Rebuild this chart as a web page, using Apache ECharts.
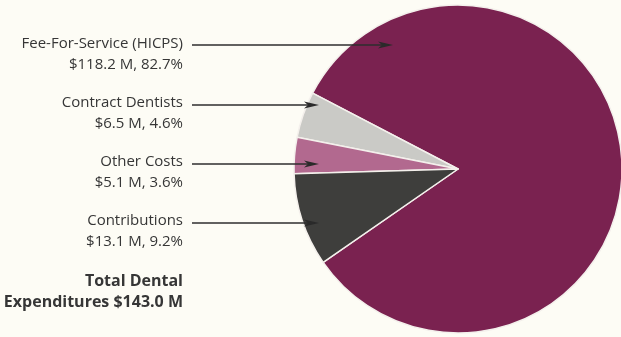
<!DOCTYPE html>
<html>
<head>
<meta charset="utf-8">
<script src="https://cdn.jsdelivr.net/npm/echarts@6/dist/echarts.min.js"></script>
<style>
  html, body { margin: 0; padding: 0; background: #fdfcf5; }
  #chart { width: 621px; height: 337px; }
</style>
</head>
<body>
<div id="chart"></div>
<script>
// Dental expenditure breakdown
const categories = ['Fee-For-Service (HICPS)', 'Contract Dentists', 'Other Costs', 'Contributions'];
const amounts = [118.2, 6.5, 5.1, 13.1];          // $ millions
const percents = [82.7, 4.6, 3.6, 9.2];           // share of total
const totalAmount = 143.0;
const sliceColors = ['#7a2250', '#cacac6', '#b2698f', '#3e3e3c'];

const textFont = '"Open Sans", "Noto Sans", sans-serif';
const textColor = '#363636';

// label anchor rows (top of first line) and arrow tips
const labelTops = [33, 92, 151, 210];
const arrowTips = [[393, 45], [319, 105], [319, 164], [319, 223]];
const labelRight = 183;

const chart = echarts.init(document.getElementById('chart'));

const data = categories.map((name, i) => ({
  name,
  value: amounts[i],
  itemStyle: { color: sliceColors[i] }
}));

// arrows from each label to its slice
const arrowGraphics = [];
arrowTips.forEach(([tx, ty]) => {
  arrowGraphics.push({
    type: 'line',
    shape: { x1: 192, y1: ty, x2: tx - 8, y2: ty },
    style: { stroke: '#2e2e2e', lineWidth: 1.3 },
    z: 10
  });
  arrowGraphics.push({
    type: 'polygon',
    shape: { points: [[tx, ty], [tx - 15, ty - 3.5], [tx - 11, ty], [tx - 15, ty + 3.5]] },
    style: { fill: '#2a2a2a' },
    z: 10
  });
});

chart.setOption({
  backgroundColor: '#fdfcf5',
  animation: false,
  graphic: arrowGraphics.concat([{
    type: 'text',
    x: labelRight,
    y: 271,
    style: {
      text: 'Total Dental\nExpenditures $' + totalAmount.toFixed(1) + ' M',
      font: 'bold 16px ' + textFont,
      fill: textColor,
      align: 'right',
      verticalAlign: 'top',
      lineHeight: 21
    }
  }]),
  series: [{
    type: 'pie',
    center: [458, 169],
    radius: 164,
    startAngle: -145.3,
    clockwise: false,
    avoidLabelOverlap: false,
    data,
    itemStyle: { borderColor: '#f4f0ec', borderWidth: 1.5 },
    label: {
      show: true,
      position: 'inside',
      color: textColor,
      fontFamily: textFont,
      fontSize: 15,
      lineHeight: 21,
      align: 'right',
      formatter: p => p.name + '\n$' + amounts[p.dataIndex].toFixed(1) + ' M, ' + percents[p.dataIndex].toFixed(1) + '%'
    },
    labelLine: { show: false },
    labelLayout: p => ({
      x: labelRight,
      y: labelTops[p.dataIndex],
      align: 'right',
      verticalAlign: 'top',
      hideOverlap: false
    })
  }]
});
</script>
</body>
</html>
